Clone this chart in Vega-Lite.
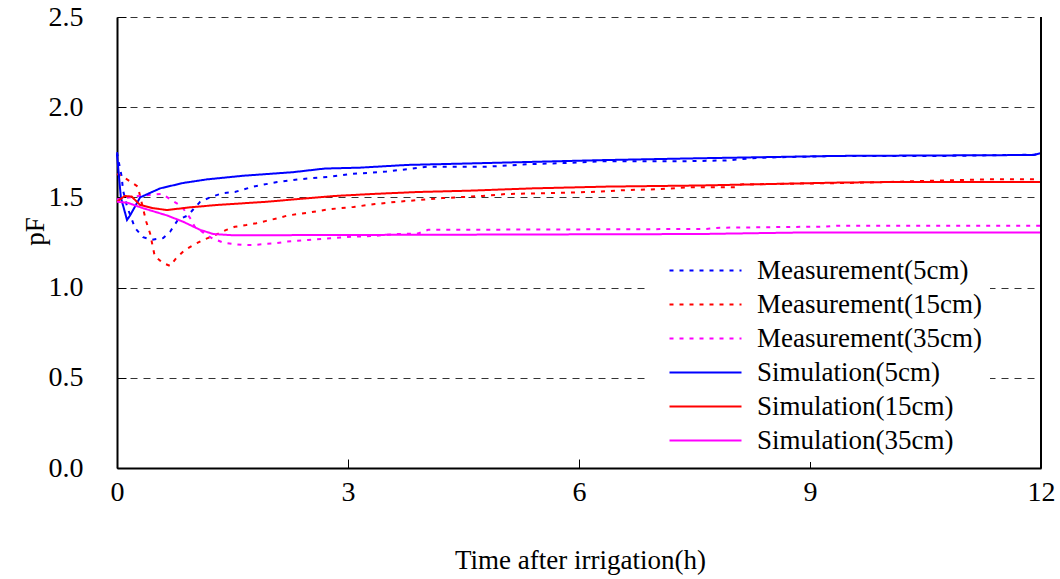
{
  "$schema": "https://vega.github.io/schema/vega-lite/v6.json",
  "width": 924,
  "height": 451,
  "autosize": {"type": "none"},
  "padding": {"left": 117, "top": 17, "right": 19, "bottom": 111},
  "background": "white",
  "config": {
    "view": {"stroke": null},
    "font": "Liberation Serif",
    "axis": {
      "labelFont": "Liberation Serif",
      "titleFont": "Liberation Serif",
      "labelFontSize": 28,
      "titleFontSize": 27,
      "labelColor": "black",
      "titleColor": "black",
      "titleFontWeight": "normal",
      "domainColor": "black",
      "domainWidth": 2,
      "tickColor": "black",
      "tickSize": -9,
      "tickWidth": 1,
      "titleLimit": 1000
    },
    "legend": {
      "labelFont": "Liberation Serif",
      "labelFontSize": 27,
      "labelColor": "black",
      "labelLimit": 400
    }
  },
  "data": {
    "values": [
      {"series": "Measurement(5cm)", "t": 0, "pF": 1.75},
      {"series": "Measurement(5cm)", "t": 0.026, "pF": 1.69},
      {"series": "Measurement(5cm)", "t": 0.061, "pF": 1.615},
      {"series": "Measurement(5cm)", "t": 0.078, "pF": 1.54},
      {"series": "Measurement(5cm)", "t": 0.13, "pF": 1.45},
      {"series": "Measurement(5cm)", "t": 0.234, "pF": 1.33},
      {"series": "Measurement(5cm)", "t": 0.338, "pF": 1.28},
      {"series": "Measurement(5cm)", "t": 0.45, "pF": 1.265},
      {"series": "Measurement(5cm)", "t": 0.6, "pF": 1.275},
      {"series": "Measurement(5cm)", "t": 0.69, "pF": 1.31},
      {"series": "Measurement(5cm)", "t": 0.79, "pF": 1.375},
      {"series": "Measurement(5cm)", "t": 0.92, "pF": 1.4},
      {"series": "Measurement(5cm)", "t": 1.08, "pF": 1.476},
      {"series": "Measurement(5cm)", "t": 1.23, "pF": 1.504},
      {"series": "Measurement(5cm)", "t": 1.38, "pF": 1.524},
      {"series": "Measurement(5cm)", "t": 1.53, "pF": 1.53},
      {"series": "Measurement(5cm)", "t": 1.77, "pF": 1.56},
      {"series": "Measurement(5cm)", "t": 2.08, "pF": 1.585},
      {"series": "Measurement(5cm)", "t": 2.35, "pF": 1.6},
      {"series": "Measurement(5cm)", "t": 2.77, "pF": 1.615},
      {"series": "Measurement(5cm)", "t": 3.05, "pF": 1.63},
      {"series": "Measurement(5cm)", "t": 3.5, "pF": 1.643},
      {"series": "Measurement(5cm)", "t": 4.03, "pF": 1.67},
      {"series": "Measurement(5cm)", "t": 4.8, "pF": 1.67},
      {"series": "Measurement(5cm)", "t": 5.39, "pF": 1.685},
      {"series": "Measurement(5cm)", "t": 5.79, "pF": 1.69},
      {"series": "Measurement(5cm)", "t": 6.27, "pF": 1.7},
      {"series": "Measurement(5cm)", "t": 7.31, "pF": 1.7},
      {"series": "Measurement(5cm)", "t": 7.91, "pF": 1.705},
      {"series": "Measurement(5cm)", "t": 8.35, "pF": 1.72},
      {"series": "Measurement(5cm)", "t": 9.36, "pF": 1.73},
      {"series": "Measurement(5cm)", "t": 10.8, "pF": 1.73},
      {"series": "Measurement(5cm)", "t": 11.92, "pF": 1.737},
      {"series": "Measurement(5cm)", "t": 12, "pF": 1.745},

      {"series": "Measurement(15cm)", "t": 0, "pF": 1.63},
      {"series": "Measurement(15cm)", "t": 0.13, "pF": 1.6},
      {"series": "Measurement(15cm)", "t": 0.27, "pF": 1.56},
      {"series": "Measurement(15cm)", "t": 0.38, "pF": 1.365},
      {"series": "Measurement(15cm)", "t": 0.43, "pF": 1.3},
      {"series": "Measurement(15cm)", "t": 0.46, "pF": 1.236},
      {"series": "Measurement(15cm)", "t": 0.49, "pF": 1.175},
      {"series": "Measurement(15cm)", "t": 0.59, "pF": 1.138},
      {"series": "Measurement(15cm)", "t": 0.69, "pF": 1.12},
      {"series": "Measurement(15cm)", "t": 0.77, "pF": 1.164},
      {"series": "Measurement(15cm)", "t": 0.88, "pF": 1.208},
      {"series": "Measurement(15cm)", "t": 0.99, "pF": 1.236},
      {"series": "Measurement(15cm)", "t": 1.12, "pF": 1.264},
      {"series": "Measurement(15cm)", "t": 1.27, "pF": 1.29},
      {"series": "Measurement(15cm)", "t": 1.42, "pF": 1.32},
      {"series": "Measurement(15cm)", "t": 1.53, "pF": 1.337},
      {"series": "Measurement(15cm)", "t": 1.68, "pF": 1.347},
      {"series": "Measurement(15cm)", "t": 1.81, "pF": 1.357},
      {"series": "Measurement(15cm)", "t": 1.94, "pF": 1.37},
      {"series": "Measurement(15cm)", "t": 2.09, "pF": 1.385},
      {"series": "Measurement(15cm)", "t": 2.22, "pF": 1.4},
      {"series": "Measurement(15cm)", "t": 2.48, "pF": 1.415},
      {"series": "Measurement(15cm)", "t": 2.77, "pF": 1.435},
      {"series": "Measurement(15cm)", "t": 3.07, "pF": 1.447},
      {"series": "Measurement(15cm)", "t": 3.35, "pF": 1.463},
      {"series": "Measurement(15cm)", "t": 3.64, "pF": 1.476},
      {"series": "Measurement(15cm)", "t": 3.91, "pF": 1.485},
      {"series": "Measurement(15cm)", "t": 4.22, "pF": 1.496},
      {"series": "Measurement(15cm)", "t": 4.75, "pF": 1.508},
      {"series": "Measurement(15cm)", "t": 5.06, "pF": 1.519},
      {"series": "Measurement(15cm)", "t": 5.66, "pF": 1.524},
      {"series": "Measurement(15cm)", "t": 6.27, "pF": 1.532},
      {"series": "Measurement(15cm)", "t": 6.57, "pF": 1.54},
      {"series": "Measurement(15cm)", "t": 7.01, "pF": 1.545},
      {"series": "Measurement(15cm)", "t": 7.44, "pF": 1.556},
      {"series": "Measurement(15cm)", "t": 8.03, "pF": 1.556},
      {"series": "Measurement(15cm)", "t": 8.09, "pF": 1.572},
      {"series": "Measurement(15cm)", "t": 9.5, "pF": 1.58},
      {"series": "Measurement(15cm)", "t": 11.3, "pF": 1.6},
      {"series": "Measurement(15cm)", "t": 12, "pF": 1.6},

      {"series": "Measurement(35cm)", "t": 0, "pF": 1.49},
      {"series": "Measurement(35cm)", "t": 0.32, "pF": 1.51},
      {"series": "Measurement(35cm)", "t": 0.58, "pF": 1.52},
      {"series": "Measurement(35cm)", "t": 0.71, "pF": 1.485},
      {"series": "Measurement(35cm)", "t": 0.84, "pF": 1.45},
      {"series": "Measurement(35cm)", "t": 0.95, "pF": 1.385},
      {"series": "Measurement(35cm)", "t": 1.01, "pF": 1.337},
      {"series": "Measurement(35cm)", "t": 1.12, "pF": 1.305},
      {"series": "Measurement(35cm)", "t": 1.23, "pF": 1.275},
      {"series": "Measurement(35cm)", "t": 1.38, "pF": 1.249},
      {"series": "Measurement(35cm)", "t": 1.51, "pF": 1.242},
      {"series": "Measurement(35cm)", "t": 1.64, "pF": 1.236},
      {"series": "Measurement(35cm)", "t": 1.77, "pF": 1.236},
      {"series": "Measurement(35cm)", "t": 1.92, "pF": 1.242},
      {"series": "Measurement(35cm)", "t": 2.05, "pF": 1.245},
      {"series": "Measurement(35cm)", "t": 2.2, "pF": 1.255},
      {"series": "Measurement(35cm)", "t": 2.48, "pF": 1.264},
      {"series": "Measurement(35cm)", "t": 2.77, "pF": 1.273},
      {"series": "Measurement(35cm)", "t": 3.05, "pF": 1.282},
      {"series": "Measurement(35cm)", "t": 3.32, "pF": 1.286},
      {"series": "Measurement(35cm)", "t": 3.64, "pF": 1.297},
      {"series": "Measurement(35cm)", "t": 3.91, "pF": 1.3},
      {"series": "Measurement(35cm)", "t": 4.04, "pF": 1.32},
      {"series": "Measurement(35cm)", "t": 7.64, "pF": 1.325},
      {"series": "Measurement(35cm)", "t": 7.83, "pF": 1.332},
      {"series": "Measurement(35cm)", "t": 9.17, "pF": 1.338},
      {"series": "Measurement(35cm)", "t": 9.35, "pF": 1.343},
      {"series": "Measurement(35cm)", "t": 12, "pF": 1.343},

      {"series": "Simulation(5cm)", "t": 0, "pF": 1.74},
      {"series": "Simulation(5cm)", "t": 0.05, "pF": 1.5},
      {"series": "Simulation(5cm)", "t": 0.13, "pF": 1.375},
      {"series": "Simulation(5cm)", "t": 0.17, "pF": 1.4},
      {"series": "Simulation(5cm)", "t": 0.3, "pF": 1.5},
      {"series": "Simulation(5cm)", "t": 0.56, "pF": 1.55},
      {"series": "Simulation(5cm)", "t": 0.86, "pF": 1.58},
      {"series": "Simulation(5cm)", "t": 1.17, "pF": 1.6},
      {"series": "Simulation(5cm)", "t": 1.64, "pF": 1.62},
      {"series": "Simulation(5cm)", "t": 2.29, "pF": 1.64},
      {"series": "Simulation(5cm)", "t": 2.7, "pF": 1.66},
      {"series": "Simulation(5cm)", "t": 3.16, "pF": 1.665},
      {"series": "Simulation(5cm)", "t": 3.77, "pF": 1.68},
      {"series": "Simulation(5cm)", "t": 4.46, "pF": 1.687},
      {"series": "Simulation(5cm)", "t": 5.3, "pF": 1.696},
      {"series": "Simulation(5cm)", "t": 6.34, "pF": 1.707},
      {"series": "Simulation(5cm)", "t": 7.57, "pF": 1.717},
      {"series": "Simulation(5cm)", "t": 9.36, "pF": 1.73},
      {"series": "Simulation(5cm)", "t": 11.9, "pF": 1.735},
      {"series": "Simulation(5cm)", "t": 12, "pF": 1.745},

      {"series": "Simulation(15cm)", "t": 0, "pF": 1.476},
      {"series": "Simulation(15cm)", "t": 0.1, "pF": 1.508},
      {"series": "Simulation(15cm)", "t": 0.19, "pF": 1.505},
      {"series": "Simulation(15cm)", "t": 0.3, "pF": 1.458},
      {"series": "Simulation(15cm)", "t": 0.47, "pF": 1.44},
      {"series": "Simulation(15cm)", "t": 0.65, "pF": 1.43},
      {"series": "Simulation(15cm)", "t": 0.95, "pF": 1.445},
      {"series": "Simulation(15cm)", "t": 1.3, "pF": 1.458},
      {"series": "Simulation(15cm)", "t": 1.95, "pF": 1.476},
      {"series": "Simulation(15cm)", "t": 2.38, "pF": 1.492},
      {"series": "Simulation(15cm)", "t": 2.83, "pF": 1.508},
      {"series": "Simulation(15cm)", "t": 3.32, "pF": 1.519},
      {"series": "Simulation(15cm)", "t": 3.91, "pF": 1.53},
      {"series": "Simulation(15cm)", "t": 4.56, "pF": 1.537},
      {"series": "Simulation(15cm)", "t": 5.39, "pF": 1.55},
      {"series": "Simulation(15cm)", "t": 6.38, "pF": 1.56},
      {"series": "Simulation(15cm)", "t": 7.57, "pF": 1.566},
      {"series": "Simulation(15cm)", "t": 9.36, "pF": 1.582},
      {"series": "Simulation(15cm)", "t": 10.0, "pF": 1.585},
      {"series": "Simulation(15cm)", "t": 12, "pF": 1.585},

      {"series": "Simulation(35cm)", "t": 0, "pF": 1.476},
      {"series": "Simulation(35cm)", "t": 0.14, "pF": 1.47},
      {"series": "Simulation(35cm)", "t": 0.34, "pF": 1.44},
      {"series": "Simulation(35cm)", "t": 0.65, "pF": 1.4},
      {"series": "Simulation(35cm)", "t": 0.86, "pF": 1.365},
      {"series": "Simulation(35cm)", "t": 1.08, "pF": 1.32},
      {"series": "Simulation(35cm)", "t": 1.25, "pF": 1.297},
      {"series": "Simulation(35cm)", "t": 1.51, "pF": 1.29},
      {"series": "Simulation(35cm)", "t": 7.57, "pF": 1.297},
      {"series": "Simulation(35cm)", "t": 8.81, "pF": 1.305},
      {"series": "Simulation(35cm)", "t": 12, "pF": 1.305}
    ]
  },
  "layer": [
    {
      "mark": {"type": "line", "strokeWidth": 2},
      "encoding": {
        "x": {
          "field": "t", "type": "quantitative",
          "scale": {"domain": [0, 12], "nice": false, "zero": false},
          "axis": {
            "title": "Time after irrigation(h)",
            "values": [0, 3, 6, 9, 12],
            "format": "d",
            "grid": false,
            "labelPadding": 19,
            "labelFlush": false,
            "titleX": 463, "titleY": 92, "titleBaseline": "middle", "titleAlign": "center"
          }
        },
        "y": {
          "field": "pF", "type": "quantitative",
          "scale": {"domain": [0, 2.5], "nice": false},
          "axis": {
            "title": "pF",
            "values": [0, 0.5, 1, 1.5, 2, 2.5],
            "format": ".1f",
            "grid": true,
            "gridColor": "#333333",
            "gridDash": [7, 6],
            "gridWidth": 1,
            "gridOpacity": 1,
            "labelPadding": 43,
            "labelFlush": false,
            "titleX": -82, "titleY": 214, "titleAngle": -90, "titleBaseline": "middle", "titleAlign": "center"
          }
        },
        "color": {
          "field": "series", "type": "nominal",
          "scale": {
            "domain": ["Measurement(5cm)", "Measurement(15cm)", "Measurement(35cm)", "Simulation(5cm)", "Simulation(15cm)", "Simulation(35cm)"],
            "range": ["#0000ff", "#ff0000", "#ff00ff", "#0000ff", "#ff0000", "#ff00ff"]
          },
          "legend": {
            "title": null,
            "orient": "none",
            "legendX": 531,
            "legendY": 232,
            "fillColor": "white",
            "padding": 8,
            "symbolType": "M0,0H72",
            "symbolSize": 4,
            "symbolStrokeWidth": 2,
            "labelOffset": 74,
            "rowPadding": 6
          }
        },
        "strokeDash": {
          "field": "series", "type": "nominal",
          "scale": {
            "domain": ["Measurement(5cm)", "Measurement(15cm)", "Measurement(35cm)", "Simulation(5cm)", "Simulation(15cm)", "Simulation(35cm)"],
            "range": [[4, 6], [4, 6], [4, 6], [1, 0], [1, 0], [1, 0]]
          },
          "legend": null
        }
      }
    },
    {
      "mark": {"type": "rule", "color": "black", "strokeWidth": 1},
      "encoding": {"x": {"datum": 12}}
    }
  ]
}
